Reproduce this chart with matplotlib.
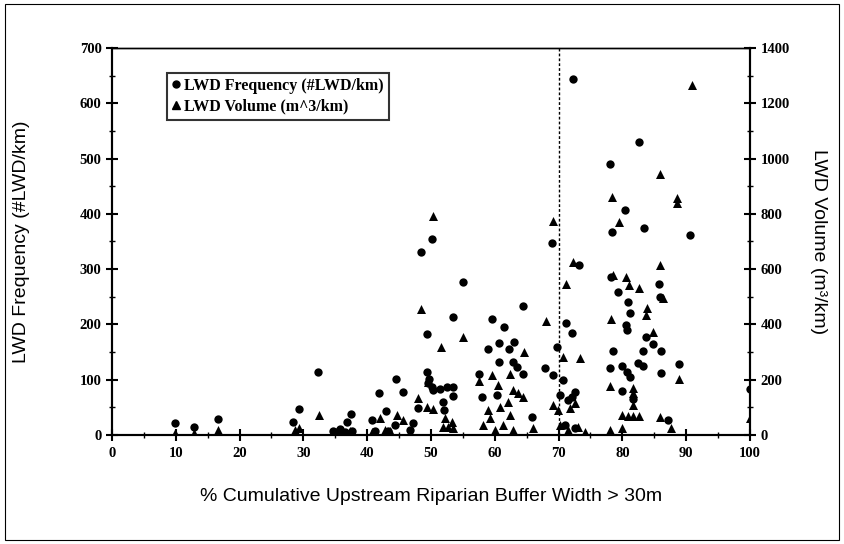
import matplotlib
matplotlib.use("Agg")
import matplotlib.pyplot as plt
from matplotlib.lines import Line2D
from matplotlib.patches import Rectangle
from matplotlib.ticker import MultipleLocator

# LWD frequency (#LWD/km) vs % cumulative buffer width
freq_x = [9.9, 12.9, 16.6, 28.4, 29.3, 32.3, 34.6, 35.7, 36.5, 36.8, 37.5, 37.6,
          40.8, 41.2, 41.8, 42.9, 43.3, 44.4, 44.5, 45.6, 46.7, 47.2, 48.0, 48.4,
          49.4, 49.4, 49.7, 49.5, 50.2, 50.2, 50.3, 51.4, 51.9, 52.0, 52.5, 53.4,
          53.4, 53.4, 55.0, 57.5, 58.0, 58.9, 59.6, 60.3, 60.7, 60.7, 61.4, 62.2,
          62.9, 63.0, 63.5, 64.4, 64.4, 65.8, 67.9, 69.0, 69.1, 69.7, 70.2, 70.7,
          71.2, 71.5, 72.1, 72.1, 72.3, 72.6, 73.2, 71.0, 72.6, 78.1, 78.4, 78.2,
          78.1, 78.5, 79.3, 79.9, 79.9, 80.4, 80.6, 80.7, 80.7, 80.9, 81.2, 81.2,
          81.7, 82.4, 82.6, 83.2, 83.2, 83.4, 83.7, 84.8, 85.7, 85.9, 86.1, 86.1,
          87.1, 88.9, 90.6, 100.0]
freq_y = [22, 14, 29, 24, 47, 114, 7, 11, 5, 24, 38, 7,
          27, 7, 76, 43, 7, 18, 101, 78, 9, 22, 49, 331,
          114, 183, 101, 94, 354, 87, 81, 83, 60, 45, 87, 87,
          70, 213, 277, 110, 69, 155, 210, 72, 166, 132, 195, 155,
          132, 168, 123, 233, 110, 33, 121, 347, 108, 159, 72, 99,
          203, 63, 184, 69, 644, 78, 307, 18, 13, 490, 367, 286,
          121, 152, 259, 125, 80, 407, 199, 190, 114, 240, 221, 105,
          65, 130, 530, 125, 152, 374, 177, 165, 273, 250, 152, 112,
          27, 128, 362, 83]

# LWD volume (m^3/km)
vol_x = [9.9, 12.9, 16.6, 28.7, 29.3, 32.4, 35.1, 36.1, 37.3, 40.8, 42.0, 42.8,
         43.6, 44.7, 45.6, 46.7, 48.0, 48.4, 49.4, 49.5, 50.3, 50.3, 51.6, 51.9,
         52.2, 52.7, 53.3, 53.4, 55.0, 57.5, 58.2, 58.9, 59.2, 59.6, 60.0, 60.5,
         60.8, 61.3, 62.1, 62.4, 62.4, 62.9, 62.9, 63.6, 64.4, 64.6, 66.0, 68.0,
         69.1, 69.1, 69.9, 70.7, 71.2, 71.8, 72.3, 72.6, 73.4, 70.2, 71.5, 73.0,
         74.1, 78.1, 78.1, 78.2, 78.4, 78.5, 79.5, 79.9, 79.9, 80.6, 80.9, 81.0,
         81.7, 81.7, 81.7, 81.7, 82.6, 82.6, 83.7, 83.9, 84.8, 85.9, 85.9, 85.9,
         86.4, 87.6, 88.6, 88.6, 88.9, 90.9, 100.0]
vol_y = [7, 7, 18, 18, 25, 72, 11, 18, 14, 11, 61, 18,
         14, 72, 54, 11, 134, 456, 101, 192, 792, 94, 318, 29,
         61, 29, 47, 25, 354, 195, 36, 90, 61, 217, 18, 181,
         101, 36, 119, 220, 72, 163, 18, 152, 137, 300, 25, 412,
         774, 108, 90, 282, 546, 98, 626, 116, 278, 36, 18, 29,
         11, 177, 18, 420, 861, 579, 770, 72, 25, 571, 69, 543,
         170, 152, 108, 69, 532, 69, 434, 459, 372, 944, 615, 65,
         495, 25, 857, 839, 203, 1266, 61]

# tick labels are bold serif in the original
plt.rcParams["font.family"] = "Liberation Serif"
plt.rcParams["font.weight"] = "bold"

fig = plt.figure(figsize=(8.44, 5.44), dpi=100)
ax = fig.add_axes([0.1327, 0.2004, 0.7559, 0.7114])
ax2 = ax.twinx()

ax.scatter(freq_x, freq_y, marker="o", s=36, color="black", linewidths=0, zorder=3)
ax2.scatter(vol_x, vol_y, marker="^", s=42, color="black", linewidths=0, zorder=3)

ax.axvline(70, color="black", linestyle=(0, (2, 1.5)), linewidth=1.0, zorder=2)

ax.set_xlim(0, 100)
ax.set_ylim(0, 700)
ax2.set_ylim(0, 1400)

ax.xaxis.set_major_locator(MultipleLocator(10))
ax.xaxis.set_minor_locator(MultipleLocator(5))
ax.yaxis.set_major_locator(MultipleLocator(100))
ax.yaxis.set_minor_locator(MultipleLocator(50))
ax2.yaxis.set_major_locator(MultipleLocator(200))
ax2.yaxis.set_minor_locator(MultipleLocator(100))

for a in (ax, ax2):
    a.tick_params(which="major", direction="inout", length=8, width=1.5, labelsize=10.5)
    a.tick_params(which="minor", direction="inout", length=5, width=1.0)
    for sp in a.spines.values():
        sp.set_linewidth(1.5)
    a.spines["top"].set_linewidth(1.0)
ax.tick_params(axis="x", which="both", top=False, pad=5)

label_font = dict(family="Liberation Sans", weight="normal", fontsize=14)
ax.set_xlabel("% Cumulative Upstream Riparian Buffer Width > 30m", labelpad=20, **label_font)
ax.set_ylabel("LWD Frequency (#LWD/km)", labelpad=36, **label_font)
ax2.set_ylabel("LWD Volume (m³/km)", rotation=270, labelpad=27, **label_font)

handles = [Line2D([], [], marker="o", color="black", linestyle="none", markersize=5),
           Line2D([], [], marker="^", color="black", linestyle="none", markersize=6)]
leg = ax.legend(handles, ["LWD Frequency (#LWD/km)", "LWD Volume (m^3/km)"],
                loc="upper left", bbox_to_anchor=(0.086, 0.935), frameon=True,
                fancybox=False, prop=dict(family="Liberation Serif", weight="bold", size=11.5),
                handlelength=0.6, handletextpad=0.2, borderpad=0.3, labelspacing=0.3,
                borderaxespad=0)
leg.get_frame().set_edgecolor("black")
leg.get_frame().set_linewidth(1.5)

fig.add_artist(Rectangle((0.006, 0.008), 0.988, 0.984, transform=fig.transFigure,
                         fill=False, edgecolor="black", linewidth=0.8))

fig.savefig("out.png", dpi=100)
